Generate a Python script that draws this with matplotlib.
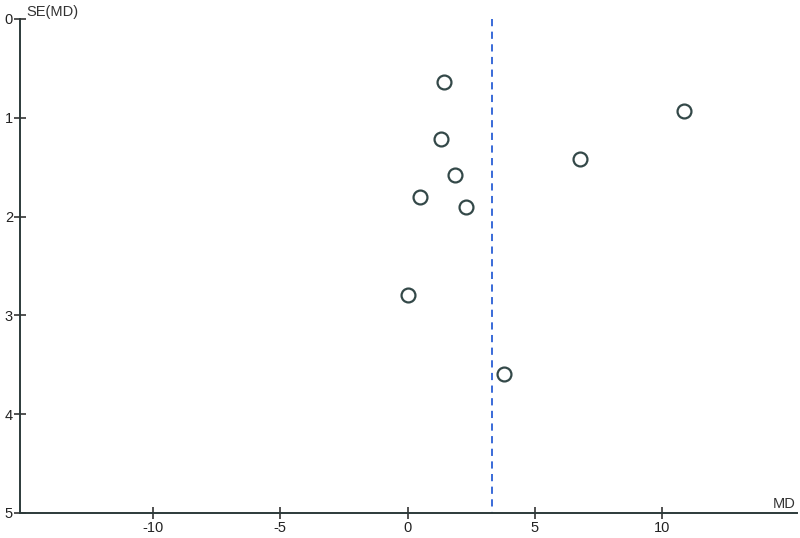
import matplotlib
matplotlib.use('Agg')
from matplotlib import pyplot as plt

# funnel plot data: mean difference vs its standard error
md = [1.43, 1.32, 1.88, 0.50, 2.31, 0.01, 3.78, 10.86, 6.78]
se_md = [0.64, 1.21, 1.58, 1.80, 1.90, 2.79, 3.59, 0.93, 1.42]
pooled_md = 3.33
x_ticks = [-10, -5, 0, 5, 10]
y_ticks = [0, 1, 2, 3, 4, 5]

plt.rcParams['font.family'] = ['Liberation Sans', 'DejaVu Sans']
plt.rcParams['axes.unicode_minus'] = False

fig = plt.figure(figsize=(8, 5.38), dpi=100)
ax = fig.add_axes([0.025, 0.0465, 0.971, 0.9182])

ax.plot([pooled_md, pooled_md], [0, 5], color='#2a5fd6', linestyle=(0, (4, 3)),
        linewidth=1.3, zorder=1)
ax.scatter(md, se_md, s=100, facecolors='white', edgecolors='#334848',
           linewidths=1.6, zorder=3)

ax.set_xlim(-15.23, 15.3)
ax.set_ylim(5, 0)
ax.set_xticks(x_ticks)
ax.set_yticks(y_ticks)
ax.tick_params(direction='inout', length=8, width=1.1, colors='#222222',
               labelsize=10.5, pad=2)
ax.tick_params(axis='y', pad=1)

for side in ['top', 'right']:
    ax.spines[side].set_visible(False)
for side in ['left', 'bottom']:
    ax.spines[side].set_linewidth(1.4)
    ax.spines[side].set_color('#2c3a3a')

ax.text(0.008, 1.0, 'SE(MD)', transform=ax.transAxes, fontsize=10.5,
        color='#333333', ha='left', va='bottom')
ax.text(0.998, 0.005, 'MD', transform=ax.transAxes, fontsize=10.5,
        color='#333333', ha='right', va='bottom')

plt.savefig('out.png', dpi=100)
